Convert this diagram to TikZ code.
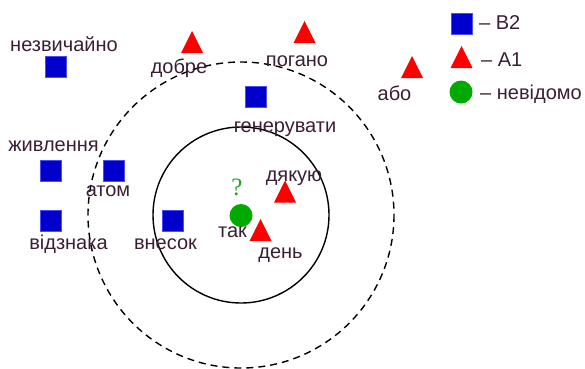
\documentclass[tikz,border=0pt]{standalone}
\usepackage{fontspec}
\setmainfont{Liberation Sans}
\newfontfamily\qmarkfont{Liberation Serif}
\definecolor{wordc}{RGB}{58,30,52}
\definecolor{bluec}{RGB}{0,0,204}
\definecolor{redc}{RGB}{255,0,0}
\definecolor{greenc}{RGB}{0,170,0}
\definecolor{qc}{RGB}{40,160,40}
\tikzset{
  sq/.style={rectangle, minimum size=21pt, inner sep=0pt, fill=bluec, draw=blue!70!white, line width=0.4pt},
  tri/.style={rectangle, minimum size=22pt, inner sep=0pt,
    path picture={\fill[redc] (path picture bounding box.south west) --
      (path picture bounding box.south east) -- (path picture bounding box.north) -- cycle;}},
  dot/.style={circle, minimum size=23pt, inner sep=0pt, fill=greenc},
  word/.style={anchor=base, inner sep=0pt, text=wordc, font=\fontsize{20}{24}\selectfont},
  legendtxt/.style={word, anchor=base west},
  ring/.style={line width=1.4pt},
  dashring/.style={line width=1.4pt, dash pattern=on 7pt off 5pt},
}
\begin{document}
\begin{tikzpicture}[x=1pt, y=-1pt]
\useasboundingbox (0,0) rectangle (585,368);

% neighbourhood circles
\coordinate (c) at (241,215);
\draw[dashring] (c) circle[radius=153];
\draw[ring] (c) circle[radius=88];

% markers: B2 words
\node[sq] (m-nezv) at (55.5,66.5) {};
\node[sq] (m-gen) at (255.5,96.5) {};
\node[sq] (m-zhyv) at (50.5,171) {};
\node[sq] (m-atom) at (114,171) {};
\node[sq] (m-vidz) at (50.5,220.5) {};
\node[sq] (m-vnes) at (172.5,220.5) {};
% markers: A1 words
\node[tri] (m-dobre) at (192,42) {};
\node[tri] (m-pogano) at (304.5,32) {};
\node[tri] (m-abo) at (412,67) {};
\node[tri] (m-dyak) at (285,191.5) {};
\node[tri] (m-den) at (260.5,230) {};
% unknown word
\node[dot] (m-q) at (241,215.5) {};

% word labels
\node[word] (t-nezv) at (64,51) {незвичайно};
\node[word] (t-dobre) at (179,73) {добре};
\node[word] (t-pogano) at (297,66) {погано};
\node[word] (t-abo) at (394.5,100) {або};
\node[word] (t-gen) at (285,132) {генерувати};
\node[word] (t-zhyv) at (53.5,151) {живлення};
\node[word] (t-atom) at (108,196) {атом};
\node[word] (t-vidz) at (68.5,249) {відзнака};
\node[word] (t-vnes) at (165.5,249) {внесок};
\node[word] (t-dyak) at (294,181) {дякую};
\node[word] (t-tak) at (232.5,237) {так};
\node[word] (t-den) at (280.5,258) {день};
\node[anchor=base, inner sep=0pt, text=qc, font=\qmarkfont\fontsize{25}{28}\selectfont] (t-q) at (237,195) {?};

% legend
\node[sq] (l-b2) at (462,23.5) {};
\node[tri] (l-a1) at (461.5,57) {};
\node[dot] (l-unk) at (461,92) {};
\node[legendtxt] (lt-b2) at (479,29) {– B2};
\node[legendtxt] (lt-a1) at (481,66) {– A1};
\node[legendtxt] (lt-unk) at (480,99) {– невідомо};
\end{tikzpicture}
\end{document}
